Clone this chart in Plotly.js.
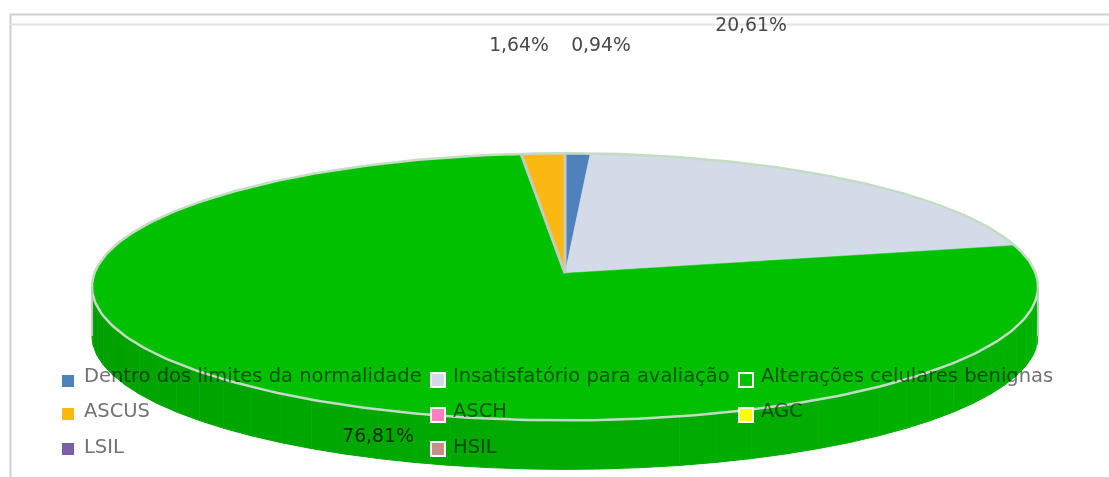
<!DOCTYPE html>
<html><head><meta charset="utf-8">
<script src="https://cdn.plot.ly/plotly-3.0.1.min.js"></script>
<style>html,body{margin:0;padding:0;background:#fff}#c{width:1109px;height:477px}
.textpoint text{mix-blend-mode:multiply}</style>
</head><body><div id="c"></div>
<script>
// ---- data ----
const categories = ['Dentro dos limites da normalidade','Insatisfatório para avaliação','Alterações celulares benignas','ASCUS','ASCH','AGC','LSIL','HSIL'];
const values = [0.94,20.61,76.81,1.64,0,0,0,0];
const valueLabels = ['0,94%','20,61%','76,81%','1,64%'];
const colors = ['#4f81bd','#d3dbe8','#00c000','#fbb810','#ff80c0','#ffff00','#7b5ea7','#c89088'];

// ---- layout constants (pixel-scaled axes) ----
const W=1109,H=477,CX=565,CY=273.3,A=470.6,B=132.2,K=0.1012,DEPTH=49;
const RIM='#c4dcc4', SEP='#c8c8c4', TXT='#727272', LBL='#484848';
const FONT='DejaVu Sans';
const legendX=[68,438,746], legendTextX=[84,453,761];
const legendMarkY=[[381,414,449],[380,415,449],[380,415]], legendTextY=[377,412,448];
const labelPos=[[601,46],[751,26],[378,437],[519,46]];
const WALL_STEPS=40;
function wallShade(p){ // p: 0 at the left end, 1 at the right end of the wall
  const g=p<0.15?158+p*40:164+(p-0.15)*18;
  return 'rgb(0,'+Math.round(g)+',0)';
}

// project an angle (fraction of the whole, clockwise from top) on to the tilted disc
function proj(f,dy){const t=f*2*Math.PI,u=Math.sin(t),v=Math.cos(t),d=1+K*v;
  return [CX+A*u/d, CY-B*v/d+(dy||0)];}
function arc(f0,f1,dy){const n=Math.max(2,Math.ceil(Math.abs(f1-f0)*360)),xs=[],ys=[];
  for(let i=0;i<=n;i++){const p=proj(f0+(f1-f0)*i/n,dy);xs.push(p[0]);ys.push(p[1]);}
  return [xs,ys];}

const traces=[];
const total=values.reduce((a,b)=>a+b,0);

// side wall: front part of the disc, from the left extreme to the right extreme
const f0=Math.acos(-K)/(2*Math.PI), f1=1-f0;
for(let i=0;i<WALL_STEPS;i++){
  const s=f1-(f1-f0)*i/WALL_STEPS, e=f1-(f1-f0)*(i+1)/WALL_STEPS, c=wallShade(i/(WALL_STEPS-1));
  const top=arc(s,e,0), bot=arc(e,s,DEPTH);
  traces.push({type:'scatter',mode:'lines',x:top[0].concat(bot[0]),y:top[1].concat(bot[1]),
    fill:'toself',fillcolor:c,line:{color:c,width:1},hoverinfo:'skip',showlegend:false});
}
// slices
let cum=0; const bounds=[];
values.forEach(v=>{bounds.push(cum);cum+=v/total;}); bounds.push(1);
const slices=values.map((v,i)=>({v,i})).filter(o=>o.v>0);
[slices[0],slices[1],slices[3],slices[2]].forEach(o=>{
  const r=arc(bounds[o.i],bounds[o.i+1],0);
  traces.push({type:'scatter',mode:'lines',name:categories[o.i],
    x:[CX].concat(r[0],[CX]),y:[CY].concat(r[1],[CY]),
    fill:'toself',fillcolor:colors[o.i],line:{color:colors[o.i],width:0.5},hoverinfo:'name',showlegend:false});
});
// rim
const rim=arc(0,1,0);
traces.push({type:'scatter',mode:'lines',x:rim[0],y:rim[1],line:{color:RIM,width:2.5},hoverinfo:'skip',showlegend:false});
// separators around the small slices
const sx=[],sy=[];
[bounds[3],0].forEach(f=>{const p=proj(f);sx.push(CX,p[0],null);sy.push(CY,p[1],null);});
traces.push({type:'scatter',mode:'lines',x:sx,y:sy,line:{color:SEP,width:3},hoverinfo:'skip',showlegend:false});
// wall outer edge
[0,1].forEach(side=>{
  const f=side?f1:f0,p=proj(f,0);
  traces.push({type:'scatter',mode:'lines',x:[p[0],p[0]],y:[p[1],p[1]+DEPTH],line:{color:'#c4cec4',width:2},hoverinfo:'skip',showlegend:false});
});
// value labels
traces.push({type:'scatter',mode:'text',x:labelPos.map(p=>p[0]),y:labelPos.map(p=>p[1]),text:valueLabels,
  textposition:'middle center',textfont:{family:FONT,size:18.8,color:LBL},cliponaxis:false,hoverinfo:'skip',showlegend:false});
// legend
const lmx=[],lmy=[],ltx=[],lty=[];
categories.forEach((c,i)=>{const col=i<3?i:(i<6?i-3:i-6),row=i<3?0:(i<6?1:2);
  lmx.push(legendX[col]);lmy.push(legendMarkY[col][row]);ltx.push(legendTextX[col]);lty.push(legendTextY[row]);});
traces.push({type:'scatter',mode:'markers',x:lmx,y:lmy,marker:{symbol:'square',size:14,color:colors,line:{color:'#fff',width:2}},hoverinfo:'skip',showlegend:false});
traces.push({type:'scatter',mode:'text',x:ltx,y:lty,text:categories,textposition:'middle right',
  textfont:{family:FONT,size:19.5,color:TXT},cliponaxis:false,hoverinfo:'skip',showlegend:false});

const hidden={visible:false,fixedrange:true};
Plotly.newPlot('c',traces,{
  width:W,height:H,margin:{l:0,r:0,t:0,b:0},paper_bgcolor:'#fff',plot_bgcolor:'#fff',showlegend:false,
  xaxis:Object.assign({range:[0,W]},hidden),
  yaxis:Object.assign({range:[H,0]},hidden),
  shapes:[
    {type:'line',layer:'below',x0:10.5,x1:10.5,y0:14,y1:477,line:{color:'#d0d0d0',width:2}},
    {type:'line',layer:'below',x0:10,x1:W,y0:14.5,y1:14.5,line:{color:'#d0d0d0',width:2}},
    {type:'line',layer:'below',x0:10,x1:W,y0:24.5,y1:24.5,line:{color:'#e4e4e4',width:2}}
  ]
},{displayModeBar:false});
</script></body></html>
